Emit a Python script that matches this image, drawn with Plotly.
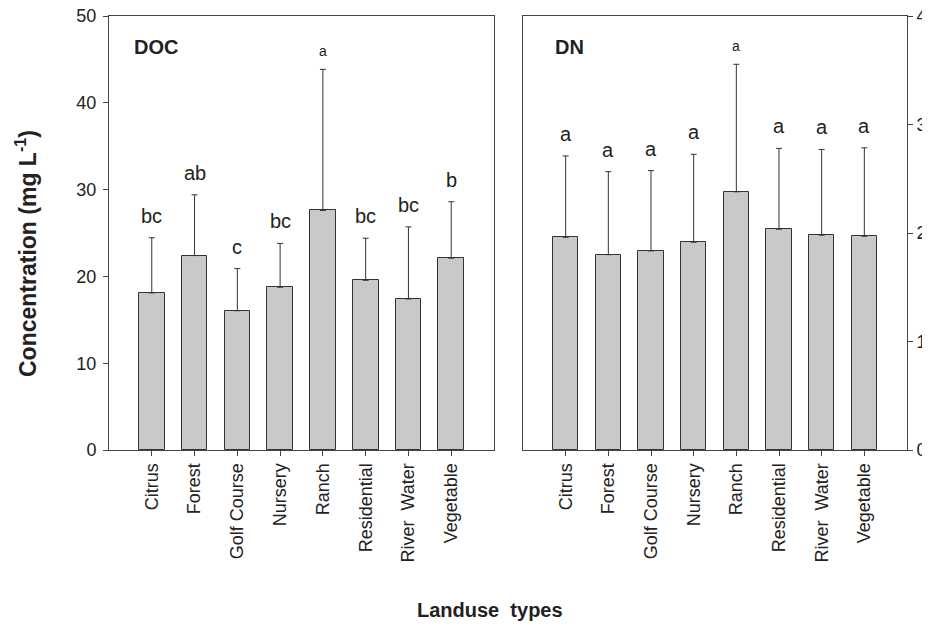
import plotly.graph_objects as go

categories = ["Citrus", "Forest", "Golf Course", "Nursery", "Ranch",
              "Residential", "River  Water", "Vegetable"]
doc_mean = [18.1, 22.4, 16.05, 18.75, 27.6, 19.55, 17.4, 22.1]
doc_sd = [6.35, 7.0, 4.85, 5.05, 16.25, 4.85, 8.3, 6.5]
doc_letters = ["bc", "ab", "c", "bc", "a", "bc", "bc", "b"]
dn_mean = [1.96, 1.80, 1.835, 1.915, 2.38, 2.035, 1.98, 1.97]
dn_sd = [0.75, 0.765, 0.74, 0.81, 1.175, 0.745, 0.79, 0.815]
dn_letters = ["a", "a", "a", "a", "a", "a", "a", "a"]

OFF = 8  # page body margin offset
W, H = 930, 626
FONT = "Liberation Sans, Arial, sans-serif"
TXT = "#222222"
AX = "#444444"

def px(x):
    return (x - OFF) / W

def py(y):
    return 1 - (y - OFF) / H

fig = go.Figure()
xs = list(range(len(categories)))

for mean, sd, ax in [(doc_mean, doc_sd, "x"), (dn_mean, dn_sd, "x2")]:
    fig.add_trace(go.Bar(
        x=xs, y=mean, width=0.6,
        xaxis=ax, yaxis="y" if ax == "x" else "y2",
        marker=dict(color="#c8c9cb", line=dict(color="#333333", width=1)),
        error_y=dict(type="data", symmetric=False, array=sd,
                     arrayminus=[0] * len(sd), color="#333333",
                     thickness=1, width=3),
        showlegend=False, hoverinfo="skip",
    ))

common_x = dict(
    tickmode="array", tickvals=xs, ticktext=categories, tickangle=-90,
    range=[-1, 8], ticks="outside", ticklen=5, tickcolor=AX,
    showline=True, linecolor=AX, linewidth=1, mirror=True,
    showgrid=False, zeroline=False, automargin=False,
    tickfont=dict(family=FONT, size=18, color=TXT),
)
common_y = dict(
    ticks="outside", ticklen=5, tickcolor=AX, showline=True, linecolor=AX,
    linewidth=1, mirror=True, showgrid=False, zeroline=False,
    automargin=False, ticklabeloverflow="allow",
    tickfont=dict(family=FONT, size=18, color=TXT),
)
fig.update_layout(
    width=W, height=H,
    margin=dict(l=0, r=0, t=0, b=0, pad=0, autoexpand=False),
    paper_bgcolor="white", plot_bgcolor="white",
    bargap=0,
    xaxis=dict(domain=[px(109), px(494)], anchor="y", **common_x),
    xaxis2=dict(domain=[px(523), px(907)], anchor="y2", **common_x),
    yaxis=dict(domain=[py(450), py(16)], anchor="x", range=[0, 50],
               tickvals=[0, 10, 20, 30, 40, 50], ticklabelstandoff=3,
               **common_y),
    yaxis2=dict(domain=[py(450), py(16)], anchor="x2", range=[0, 4],
                side="right", tickvals=[0, 1, 2, 3, 4], **common_y),
)

anns = []
for mean, sd, letters, xr, yr in [(doc_mean, doc_sd, doc_letters, "x", "y"),
                                  (dn_mean, dn_sd, dn_letters, "x2", "y2")]:
    top = max(m + s for m, s in zip(mean, sd))
    for i, (m, s, l) in enumerate(zip(mean, sd, letters)):
        big = (m + s) < top
        anns.append(dict(
            x=i, y=m + s, xref=xr, yref=yr, text=l, showarrow=False,
            yanchor="bottom", yshift=9 if big else 8,
            font=dict(family=FONT, size=20 if big else 14, color=TXT),
        ))

anns.append(dict(x=px(132), y=py(47), xref="paper", yref="paper", text="<b>DOC</b>",
                 showarrow=False, xanchor="left", yanchor="middle",
                 font=dict(family=FONT, size=20, color=TXT)))
anns.append(dict(x=px(553), y=py(47), xref="paper", yref="paper", text="<b>DN</b>",
                 showarrow=False, xanchor="left", yanchor="middle",
                 font=dict(family=FONT, size=20, color=TXT)))
anns.append(dict(x=px(26), y=py(254), xref="paper", yref="paper",
                 text="<b>Concentration (mg L<sup>-1</sup>)</b>",
                 showarrow=False, textangle=-90, xanchor="center", yanchor="middle",
                 font=dict(family=FONT, size=23, color=TXT)))
anns.append(dict(x=px(490), y=py(610), xref="paper", yref="paper",
                 text="<b>Landuse  types</b>",
                 showarrow=False, xanchor="center", yanchor="middle",
                 font=dict(family=FONT, size=20, color=TXT)))
fig.update_layout(annotations=anns)

fig.write_html("out.html")
